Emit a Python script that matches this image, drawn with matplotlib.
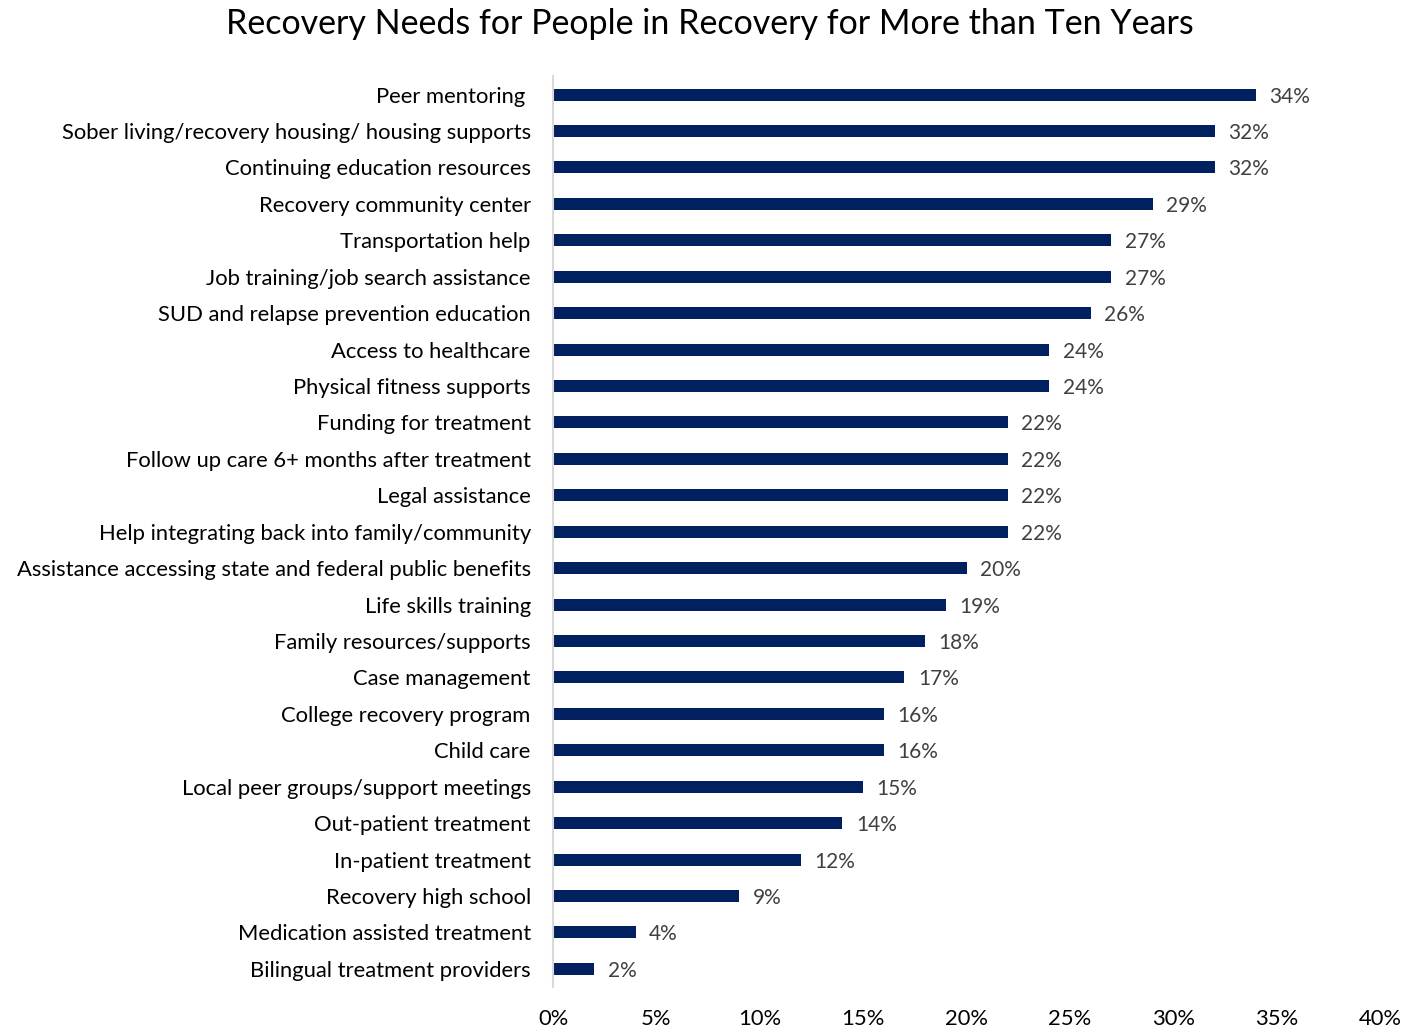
import matplotlib.pyplot as plt

plt.rcParams['font.family'] = ['Lato', 'DejaVu Sans']

needs = [
    "Peer mentoring ",
    "Sober living/recovery housing/ housing supports",
    "Continuing education resources",
    "Recovery community center",
    "Transportation help",
    "Job training/job search assistance",
    "SUD and relapse prevention education",
    "Access to healthcare",
    "Physical fitness supports",
    "Funding for treatment",
    "Follow up care 6+ months after treatment",
    "Legal assistance",
    "Help integrating back into family/community",
    "Assistance accessing state and federal public benefits",
    "Life skills training",
    "Family resources/supports",
    "Case management",
    "College recovery program",
    "Child care",
    "Local peer groups/support meetings",
    "Out-patient treatment",
    "In-patient treatment",
    "Recovery high school",
    "Medication assisted treatment",
    "Bilingual treatment providers",
]
pct = [34, 32, 32, 29, 27, 27, 26, 24, 24, 22, 22, 22, 22, 20, 19, 18, 17, 16, 16, 15, 14, 12, 9, 4, 2]
xticks = [0, 5, 10, 15, 20, 25, 30, 35, 40]

fig = plt.figure(figsize=(14.12, 10.29), dpi=100)
ax = fig.add_axes([0.3917, 0.0408, 0.5856, 0.885])

y = list(range(len(needs)))
ax.barh(y, pct, height=0.33, color='#002060')
for yi, v in zip(y, pct):
    ax.text(v + 0.65, yi, f"{v}%", va='center_baseline', ha='left', fontsize=15, color='#404040')

ax.set_ylim(len(needs) - 0.5, -0.5)
ax.set_xlim(0, 40)
ax.set_yticks(y)
ax.set_yticklabels(needs, fontsize=15.8)
ax.set_xticks(xticks)
ax.set_xticklabels([f"{t}%" for t in xticks], fontsize=15.8)
ax.tick_params(length=0)
ax.tick_params(axis='y', pad=16)
ax.tick_params(axis='x', pad=16)

for s in ['top', 'right', 'bottom']:
    ax.spines[s].set_visible(False)
ax.spines['left'].set_color('#d9d9d9')
ax.spines['left'].set_linewidth(1.5)

fig.suptitle("Recovery Needs for People in Recovery for More than Ten Years",
             fontsize=24.5, x=0.503, y=0.992, va='top')

fig.savefig('out.png', dpi=100, facecolor='white')
